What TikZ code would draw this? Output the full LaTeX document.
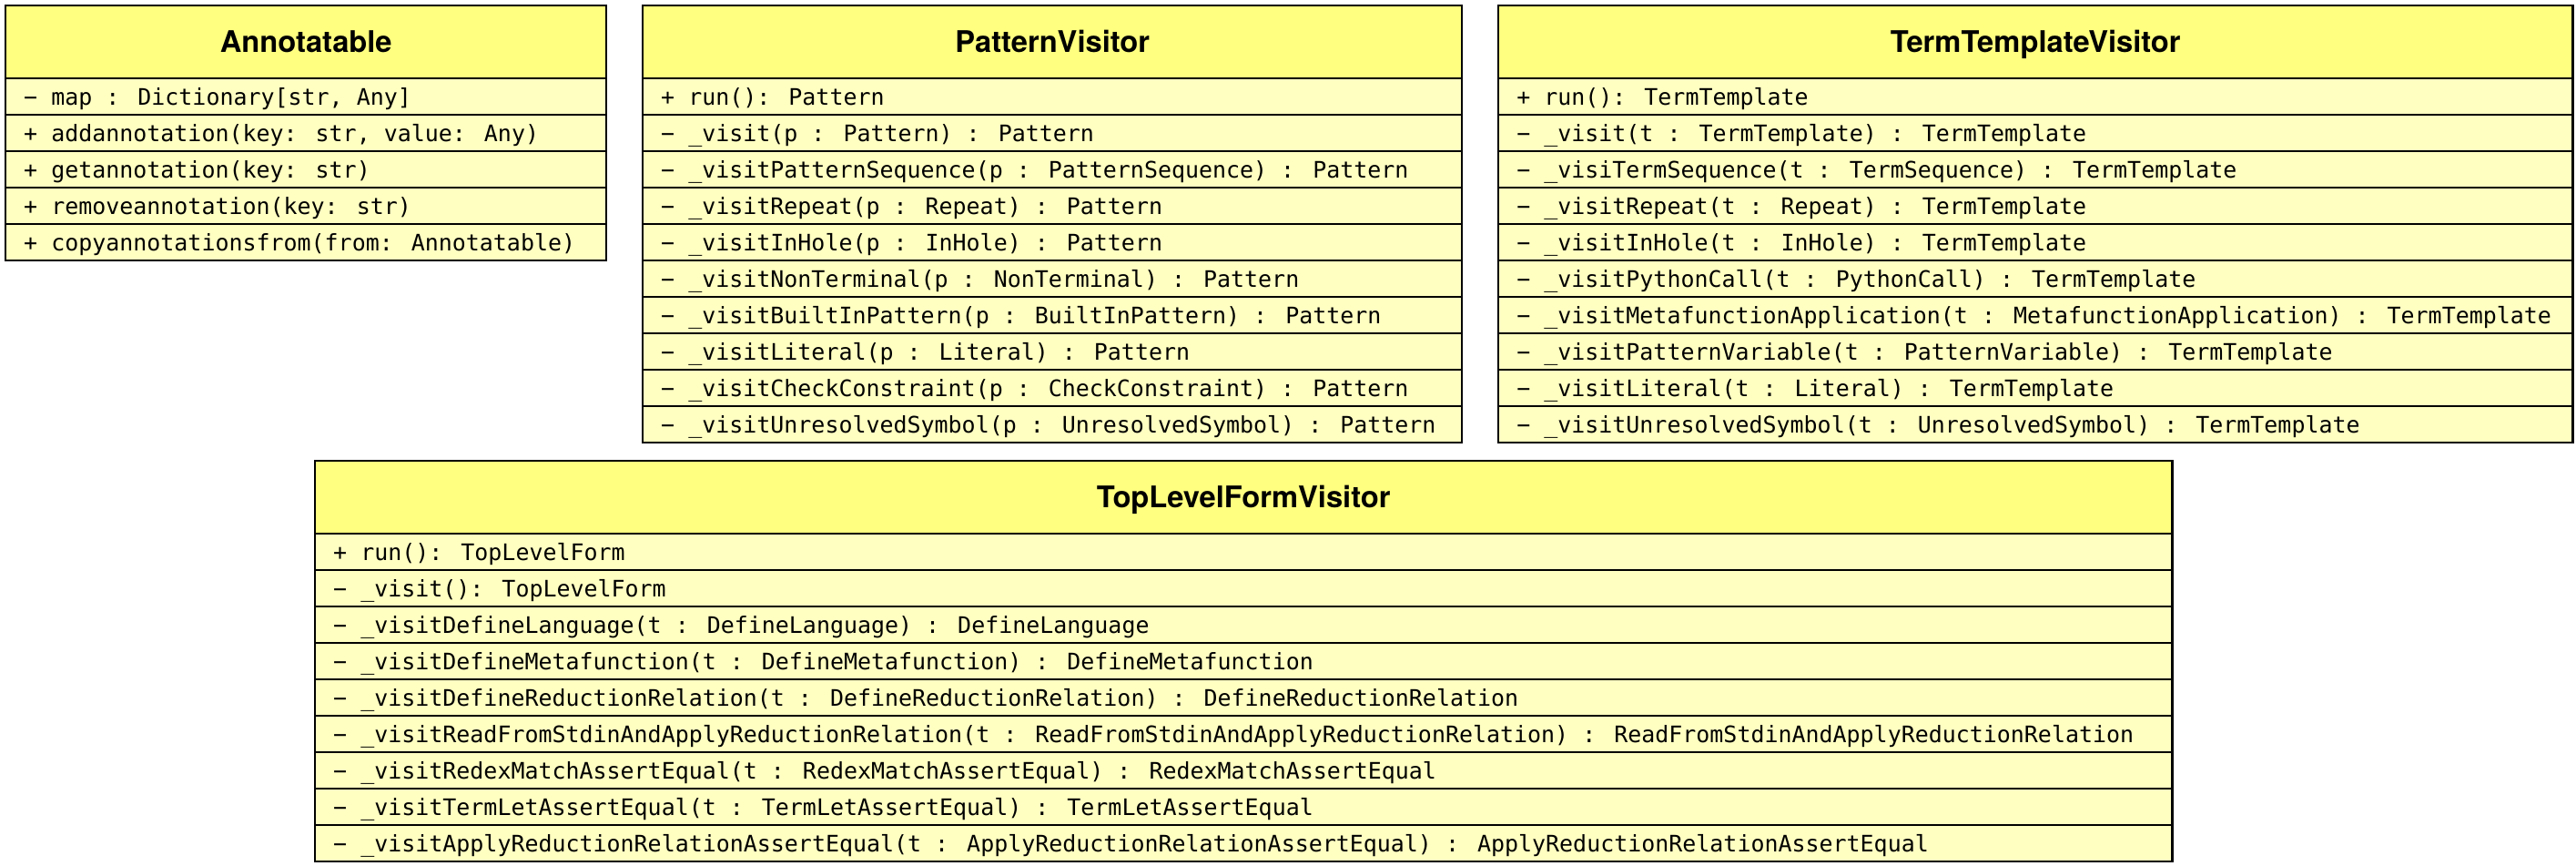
\documentclass[tikz,border=0pt]{standalone}
\usepackage{fontspec}
\usepackage{xcolor}
\definecolor{headyellow}{RGB}{255,255,128}
\definecolor{rowyellow}{RGB}{255,255,194}
\usepackage{tikz}
\newfontfamily\umlmono{DejaVu Sans Mono}
\newfontfamily\umlsans{TeX Gyre Heros}
\newcommand{\codefont}{\umlmono\fontsize{7.1pt}{8.5pt}\selectfont}
\newcommand{\titlefont}{\umlsans\bfseries\fontsize{9.3pt}{11pt}\selectfont}
\newcommand{\heightclass}{8mm}
\newcommand{\heightrow}{4mm}
\newcommand{\widthannot}{6.6cm}
\newcommand{\widthpattern}{9cm}
\newcommand{\widthterm}{11.8cm}
\newcommand{\widthtop}{20.4cm}
\tikzset{
    common/.style={anchor=north west, draw, rectangle, line width=0.7pt, inner sep=0pt},
    head/.style={common, fill=headyellow, minimum height=\heightclass, font=\titlefont, text height=6.7pt, text depth=0pt},
    member/.style={common, fill=rowyellow, minimum height=\heightrow, inner xsep=2mm, align=flush left, text width=#1, font=\codefont, text height=5.2pt, text depth=0pt,
        execute at begin node={\spaceskip=0pt\xspaceskip=0pt}}
}

\begin{document}
\begin{tikzpicture}
        \useasboundingbox (0,0) rectangle (28.3,9.5);

        \path
            (0.05,9.45) node[head, minimum width=\widthannot] (AN) {Annotatable}
            ++(0,-\heightclass) node[member=6.2cm] (AN-1) {− map : Dictionary[str, Any]}
            ++(0,-\heightrow) node[member=6.2cm] (AN-2) {+ addannotation(key: str, value: Any)}
            ++(0,-\heightrow) node[member=6.2cm] (AN-3) {+ getannotation(key: str)}
            ++(0,-\heightrow) node[member=6.2cm] (AN-4) {+ removeannotation(key: str)}
            ++(0,-\heightrow) node[member=6.2cm] (AN-5) {+ copyannotationsfrom(from: Annotatable)};

        \path
            (7.05,9.45) node[head, minimum width=\widthpattern] (PV) {PatternVisitor}
            ++(0,-\heightclass) node[member=8.6cm] (PV-1) {+ run(): Pattern}
            ++(0,-\heightrow) node[member=8.6cm] (PV-2) {− \_visit(p : Pattern) : Pattern}
            ++(0,-\heightrow) node[member=8.6cm] (PV-3) {− \_visitPatternSequence(p : PatternSequence) : Pattern}
            ++(0,-\heightrow) node[member=8.6cm] (PV-4) {− \_visitRepeat(p : Repeat) : Pattern}
            ++(0,-\heightrow) node[member=8.6cm] (PV-5) {− \_visitInHole(p : InHole) : Pattern}
            ++(0,-\heightrow) node[member=8.6cm] (PV-6) {− \_visitNonTerminal(p : NonTerminal) : Pattern}
            ++(0,-\heightrow) node[member=8.6cm] (PV-7) {− \_visitBuiltInPattern(p : BuiltInPattern) : Pattern}
            ++(0,-\heightrow) node[member=8.6cm] (PV-8) {− \_visitLiteral(p : Literal) : Pattern}
            ++(0,-\heightrow) node[member=8.6cm] (PV-9) {− \_visitCheckConstraint(p : CheckConstraint) : Pattern}
            ++(0,-\heightrow) node[member=8.6cm] (PV-10) {− \_visitUnresolvedSymbol(p : UnresolvedSymbol) : Pattern};

        \path
            (16.45,9.45) node[head, minimum width=\widthterm] (TT) {TermTemplateVisitor}
            ++(0,-\heightclass) node[member=11.4cm] (TT-1) {+ run(): TermTemplate}
            ++(0,-\heightrow) node[member=11.4cm] (TT-2) {− \_visit(t : TermTemplate) : TermTemplate}
            ++(0,-\heightrow) node[member=11.4cm] (TT-3) {− \_visiTermSequence(t : TermSequence) : TermTemplate}
            ++(0,-\heightrow) node[member=11.4cm] (TT-4) {− \_visitRepeat(t : Repeat) : TermTemplate}
            ++(0,-\heightrow) node[member=11.4cm] (TT-5) {− \_visitInHole(t : InHole) : TermTemplate}
            ++(0,-\heightrow) node[member=11.4cm] (TT-6) {− \_visitPythonCall(t : PythonCall) : TermTemplate}
            ++(0,-\heightrow) node[member=11.4cm] (TT-7) {− \_visitMetafunctionApplication(t : MetafunctionApplication) : TermTemplate}
            ++(0,-\heightrow) node[member=11.4cm] (TT-8) {− \_visitPatternVariable(t : PatternVariable) : TermTemplate}
            ++(0,-\heightrow) node[member=11.4cm] (TT-9) {− \_visitLiteral(t : Literal) : TermTemplate}
            ++(0,-\heightrow) node[member=11.4cm] (TT-10) {− \_visitUnresolvedSymbol(t : UnresolvedSymbol) : TermTemplate};

        \path
            (3.45,4.45) node[head, minimum width=\widthtop] (TL) {TopLevelFormVisitor}
            ++(0,-\heightclass) node[member=20cm] (TL-1) {+ run(): TopLevelForm}
            ++(0,-\heightrow) node[member=20cm] (TL-2) {− \_visit(): TopLevelForm}
            ++(0,-\heightrow) node[member=20cm] (TL-3) {− \_visitDefineLanguage(t : DefineLanguage) : DefineLanguage}
            ++(0,-\heightrow) node[member=20cm] (TL-4) {− \_visitDefineMetafunction(t : DefineMetafunction) : DefineMetafunction}
            ++(0,-\heightrow) node[member=20cm] (TL-5) {− \_visitDefineReductionRelation(t : DefineReductionRelation) : DefineReductionRelation}
            ++(0,-\heightrow) node[member=20cm] (TL-6) {− \_visitReadFromStdinAndApplyReductionRelation(t : ReadFromStdinAndApplyReductionRelation) : ReadFromStdinAndApplyReductionRelation}
            ++(0,-\heightrow) node[member=20cm] (TL-7) {− \_visitRedexMatchAssertEqual(t : RedexMatchAssertEqual) : RedexMatchAssertEqual}
            ++(0,-\heightrow) node[member=20cm] (TL-8) {− \_visitTermLetAssertEqual(t : TermLetAssertEqual) : TermLetAssertEqual}
            ++(0,-\heightrow) node[member=20cm] (TL-9) {− \_visitApplyReductionRelationAssertEqual(t : ApplyReductionRelationAssertEqual) : ApplyReductionRelationAssertEqual};
    \end{tikzpicture}
\end{document}
